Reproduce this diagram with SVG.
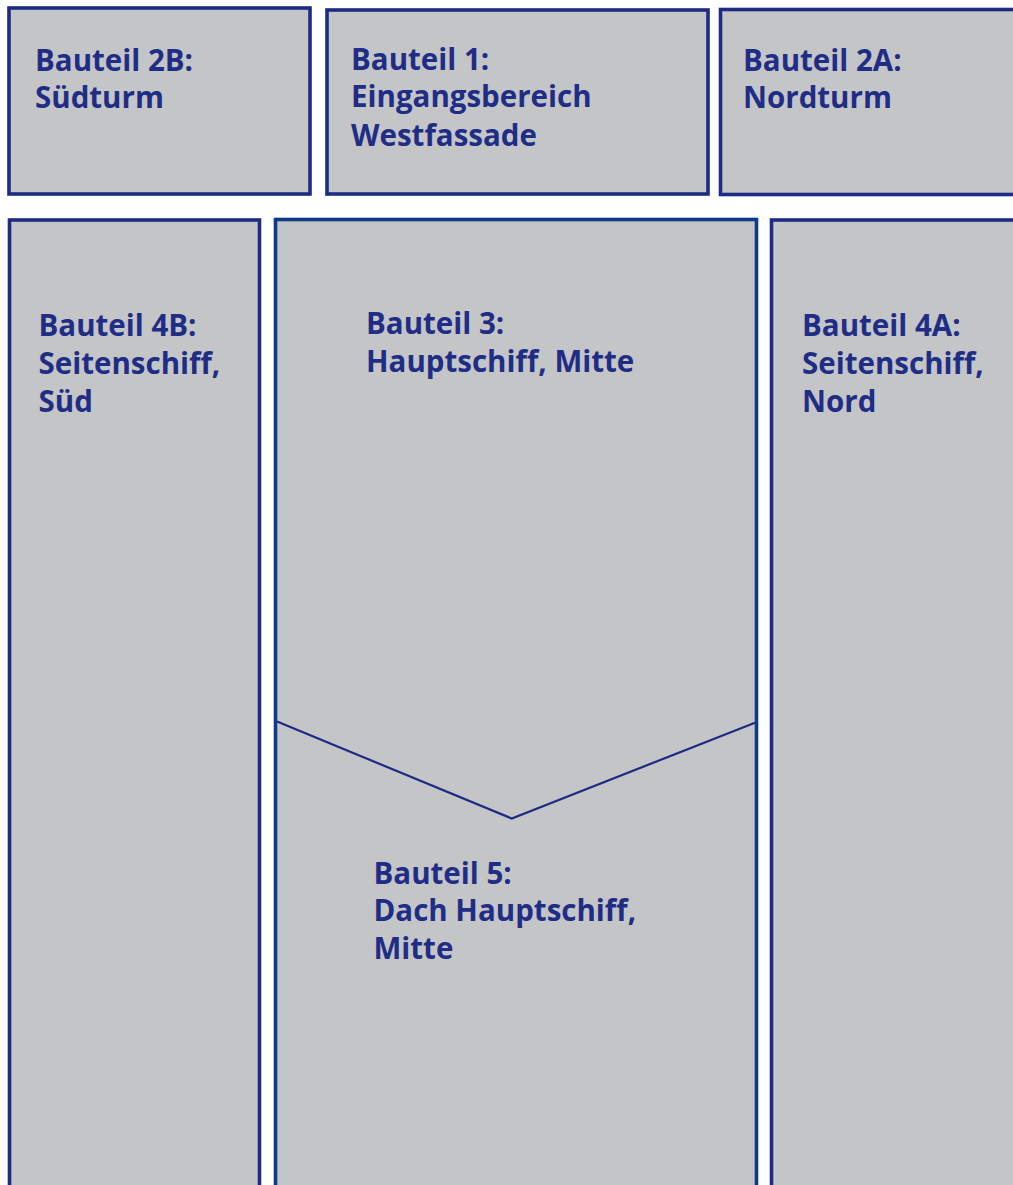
<svg xmlns="http://www.w3.org/2000/svg" width="1013" height="1185" viewBox="0 0 1013 1185">
<style>
.box{fill:#c4c5c7;stroke:#1d2b84;stroke-width:3.6}
.box2{fill:#c4c5c7;stroke:#0f3a8a;stroke-width:3.6}
.lbl{font-family:"Open Sans","Noto Sans","Liberation Sans",sans-serif;font-weight:700;font-size:29.5px;fill:#1f2d86}
.edge{fill:none;stroke:#1d2b84;stroke-width:2.2}
</style>
<rect width="1013" height="1185" fill="#ffffff"/>
<g id="node-2B">
<rect class="box" x="9" y="8" width="301" height="186"/>
<text class="lbl" x="35" y="70.5">Bauteil 2B:</text>
<text class="lbl" x="35" y="108.3">Südturm</text>
</g>
<g id="node-1">
<rect class="box" x="327" y="10" width="381" height="184"/>
<text class="lbl" x="351" y="69.5">Bauteil 1:</text>
<text class="lbl" x="351" y="107.3">Eingangsbereich</text>
<text class="lbl" x="351" y="145.5">Westfassade</text>
</g>
<g id="node-2A">
<rect class="box" x="720.5" y="9.5" width="300" height="185"/>
<text class="lbl" x="743" y="70.5">Bauteil 2A:</text>
<text class="lbl" x="743" y="108.3">Nordturm</text>
</g>
<g id="node-4B">
<rect class="box" x="9.5" y="220" width="250" height="1000"/>
<text class="lbl" x="38.5" y="336">Bauteil 4B:</text>
<text class="lbl" x="38.5" y="374">Seitenschiff,</text>
<text class="lbl" x="38.5" y="412">Süd</text>
</g>
<g id="node-3">
<rect class="box2" x="275.5" y="219.5" width="481" height="1000"/>
<text class="lbl" x="366" y="334">Bauteil 3:</text>
<text class="lbl" x="366" y="372">Hauptschiff, Mitte</text>
</g>
<g id="node-4A">
<rect class="box" x="771.5" y="220" width="300" height="1000"/>
<text class="lbl" x="802" y="336">Bauteil 4A:</text>
<text class="lbl" x="802" y="374">Seitenschiff,</text>
<text class="lbl" x="802" y="412">Nord</text>
</g>
<g id="connectors">
<polyline class="edge" points="277,721.5 511.7,818.5 755,722.7"/>
</g>
<g id="node-5">
<text class="lbl" x="373.5" y="883.5">Bauteil 5:</text>
<text class="lbl" x="373.5" y="921">Dach Hauptschiff,</text>
<text class="lbl" x="373.5" y="959.3">Mitte</text>
</g>
</svg>
